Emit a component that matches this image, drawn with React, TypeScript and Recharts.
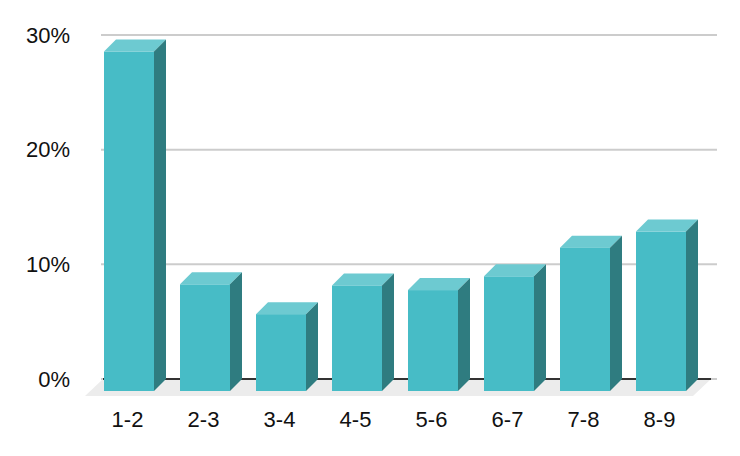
import React from "react";
import { BarChart, Bar, XAxis, YAxis, CartesianGrid, ReferenceArea } from "recharts";

const categories = ["1-2", "2-3", "3-4", "4-5", "5-6", "6-7", "7-8", "8-9"];
const shares = [29.6, 9.3, 6.7, 9.2, 8.8, 10.0, 12.5, 13.9];
const yTicks = [0, 10, 20, 30];

const data = categories.map((c, i) => ({ name: c, value: shares[i] }));

const DEPTH = 12;
const FRONT = "#47bcc6";
const TOP = "#6dcad1";
const SIDE = "#2f7c80";
const FONT = "Arial, 'Liberation Sans', sans-serif";

const Bar3D = (props: any) => {
  const { x, y, width, height } = props;
  if (width == null || height == null) return null;
  const fx = x - DEPTH;
  const fy = y + DEPTH;
  return (
    <g>
      <polygon
        points={`${fx},${fy} ${x},${y} ${x + width},${y} ${fx + width},${fy}`}
        fill={TOP}
      />
      <polygon
        points={`${fx + width},${fy} ${x + width},${y} ${x + width},${y + height} ${fx + width},${fy + height}`}
        fill={SIDE}
      />
      <rect x={fx} y={fy} width={width} height={height} fill={FRONT} />
    </g>
  );
};

const Floor = (props: any) => {
  const { x, y, width, height } = props;
  const base = y + height;
  const dx = -18;
  const dy = 17;
  return (
    <g>
      <polygon
        points={`${x},${base} ${x + width},${base} ${x + width + dx},${base + dy} ${x + dx},${base + dy}`}
        fill="#ececec"
      />
      <line x1={x} y1={base} x2={x + width} y2={base} stroke="#333333" strokeWidth={2} />
    </g>
  );
};

const XTick = (props: any) => {
  const { x, y, payload } = props;
  return (
    <text x={x - 13.5} y={y + 48} textAnchor="middle" fontSize={22} fill="#111" fontFamily={FONT}>
      {payload.value}
    </text>
  );
};

const YTick = (props: any) => {
  const { y, payload } = props;
  return (
    <text x={70} y={y} dy="0.355em" textAnchor="end" fontSize={22} fill="#111" fontFamily={FONT}>
      {`${payload.value}%`}
    </text>
  );
};

export default function App() {
  return (
    <div style={{ position: "absolute", left: 0, top: 0, width: 740, height: 456, background: "#fff" }}>
      <BarChart
        width={740}
        height={456}
        data={data}
        margin={{ top: 35, right: 23, bottom: 0, left: 0 }}
        barSize={50}
      >
        <CartesianGrid vertical={false} stroke="#cccccc" strokeWidth={2} />
        <XAxis
          dataKey="name"
          height={77}
          axisLine={false}
          tickLine={false}
          tickSize={0}
          tickMargin={0}
          padding={{ left: 2, right: 6 }}
          tick={<XTick />}
          interval={0}
        />
        <YAxis
          width={101}
          domain={[0, 30]}
          ticks={yTicks}
          axisLine={false}
          tickLine={false}
          tickSize={0}
          tickMargin={0}
          tick={<YTick />}
        />
        <ReferenceArea y1={0} y2={1} shape={<Floor />} ifOverflow="visible" />
        <Bar dataKey="value" isAnimationActive={false} shape={<Bar3D />} />
      </BarChart>
    </div>
  );
}
